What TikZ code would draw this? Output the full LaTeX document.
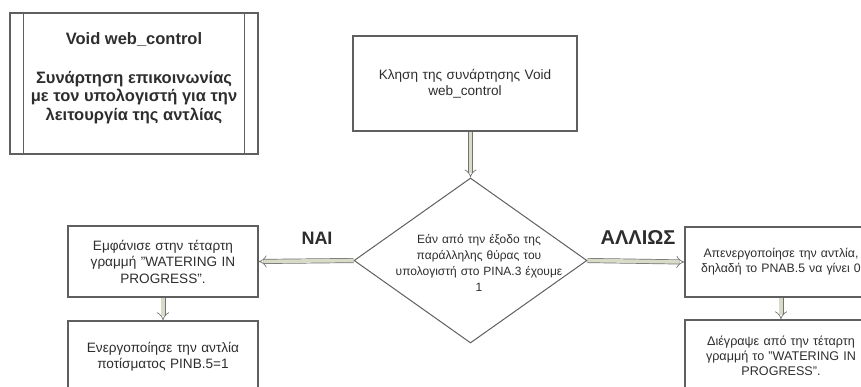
\documentclass[tikz,border=0pt]{standalone}
\usepackage{fontspec}
\setmainfont{Liberation Sans}
\usetikzlibrary{shapes.geometric,arrows.meta}
\definecolor{shaftfill}{RGB}{216,219,198}
\definecolor{edge}{RGB}{95,95,95}
\definecolor{ink}{RGB}{45,45,45}
\tikzset{
  box/.style={draw=edge, line width=1.2pt, rectangle, inner sep=0pt,
    text=ink, align=center, font=\fontsize{13.6}{16.5}\selectfont},
  smallbox/.style={box, font=\fontsize{12.6}{15}\selectfont},
  decision/.style={draw=edge, line width=1pt, diamond, inner sep=0pt},
  plain/.style={text=ink, align=center, inner sep=0pt},
  flow/.style={draw=black!55, line width=0.7pt, double=shaftfill,
    double distance=3.6pt, -{Implies[scale=1.4]}},
  tag/.style={text=ink, inner sep=0pt, font=\fontsize{18}{20}\selectfont\bfseries}
}
\begin{document}
\begin{tikzpicture}[x=1pt,y=-1pt]
\useasboundingbox (0,0) rectangle (861,387);
\clip (0,0) rectangle (861,387);

% function header (predefined process)
\node[box, minimum width=248pt, minimum height=141pt] (header) at (134,83.5) {};
\draw[edge, line width=1.2pt] ([xshift=14pt]header.north west) -- ([xshift=14pt]header.south west);
\draw[edge, line width=1.2pt] ([xshift=-14pt]header.north east) -- ([xshift=-14pt]header.south east);
\node[plain, font=\fontsize{16.5}{18.5}\selectfont\bfseries] (headertext) at (134,78)
  {Void web\_control\\[20pt]Συνάρτηση επικοινωνίας\\με τον υπολογιστή για την\\λειτουργία της αντλίας};

% call
\node[box, minimum width=224pt, minimum height=95pt, text width=210pt] (call) at (465,83.5)
  {Κληση της συνάρτησης Void\\web\_control};

% decision
\node[decision, minimum width=233pt, minimum height=165pt] (dia) at (470.5,260.5) {};
\node[plain, text width=180pt, font=\fontsize{12}{15.8}\selectfont] (diatext) at (479,263)
  {Εάν από την έξοδο της\\παράλληλης θύρας του\\υπολογιστή στο PINA.3 έχουμε\\1};

% yes branch
\node[box, minimum width=190pt, minimum height=71pt, text width=185pt] (yes1) at (163,261.5)
  {Εμφάνισε στην τέταρτη\\γραμμή "WATERING IN\\PROGRESS".};
\node[box, minimum width=190pt, minimum height=71pt, text width=185pt] (yes2) at (163,356.5)
  {Ενεργοποίησε την αντλία\\ποτίσματος PINB.5=1};

% otherwise branch
\node[smallbox, minimum width=192pt, minimum height=70pt, text width=190pt,
  font=\fontsize{12.3}{15}\selectfont] (no1) at (781,262)
  {Απενεργοποίησε την αντλία,\\δηλαδή το PNAB.5 να γίνει 0};
\node[smallbox, minimum width=192pt, minimum height=71pt, text width=190pt] (no2) at (781,355.5)
  {Διέγραψε από την τέταρτη\\γραμμή το "WATERING IN\\PROGRESS".};

% connectors
\draw[flow] (call.south -| dia.north) -- (dia.north);
\draw[flow] (dia.west) -- (yes1.east);
\draw[flow] (dia.east) -- (no1.west);
\draw[flow] (yes1.south) -- (yes2.north);
\draw[flow] (no1.south) -- (no2.north);

% branch labels
\node[tag] (yeslabel) at (317,238) {ΝΑΙ};
\node[tag, font=\fontsize{20}{22}\selectfont\bfseries] (nolabel) at (638,238) {ΑΛΛΙΩΣ};
\end{tikzpicture}
\end{document}
